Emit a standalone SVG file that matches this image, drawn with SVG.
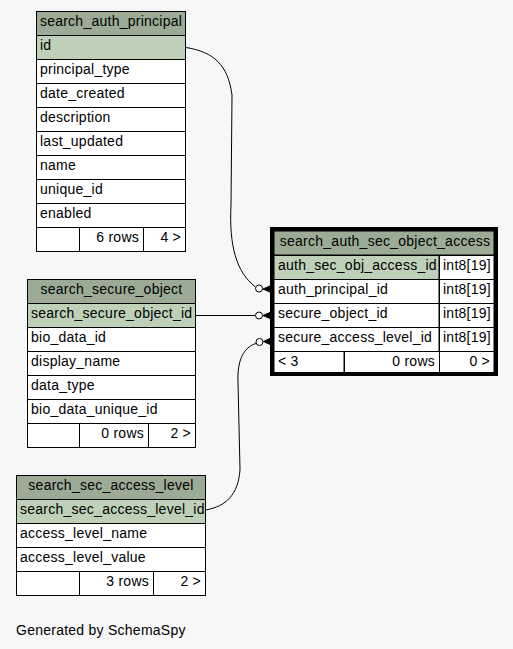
<svg xmlns="http://www.w3.org/2000/svg" width="513" height="649" viewBox="0 0 513 649">
<style>
.t{font-family:"Liberation Sans",Arial,Helvetica,sans-serif;font-size:14px;letter-spacing:0.25px;fill:#000}
.c{text-anchor:middle}
.e{text-anchor:end}
.hd{fill:#9bab96;stroke:#000;stroke-width:1}
.pk{fill:#bed1b8;stroke:#000;stroke-width:1}
.bd{fill:#fff;stroke:#000;stroke-width:1}
.ln{fill:none;stroke:#000;stroke-width:1}
.od{fill:#fff;stroke:#000;stroke-width:1}
.cr{fill:#000;stroke:#000;stroke-width:1}
</style>
<rect x="0" y="0" width="513" height="649" fill="#f7f7f7"/>

<g id="connectors">
  <path class="ln" d="M186,47.5 C214,52 228,65 232,95 L231,205 C229,245 236,272 255.5,287"/>
  <circle class="od" cx="259" cy="288.5" r="3.5"/>
  <polygon class="cr" points="263,289 271,285.5 271,292.5"/>
  <path class="ln" d="M195.5,315.5 L255.5,315.5"/>
  <circle class="od" cx="259" cy="315.5" r="3.5"/>
  <polygon class="cr" points="263,315.5 271,312 271,319"/>
  <path class="ln" d="M206,510 C226,506 238,495 240,470 L238,382 C237,360 244,347 256,343.5"/>
  <circle class="od" cx="259.5" cy="342" r="3.5"/>
  <polygon class="cr" points="263.5,341.5 271,338 271,345"/>
</g>

<g id="search_auth_principal">
  <rect class="hd" x="36.5" y="11.5" width="149" height="24"/>
  <rect class="pk" x="36.5" y="35.5" width="149" height="24"/>
  <rect class="bd" x="36.5" y="59.5" width="149" height="24"/>
  <rect class="bd" x="36.5" y="83.5" width="149" height="24"/>
  <rect class="bd" x="36.5" y="107.5" width="149" height="24"/>
  <rect class="bd" x="36.5" y="131.5" width="149" height="24"/>
  <rect class="bd" x="36.5" y="155.5" width="149" height="24"/>
  <rect class="bd" x="36.5" y="179.5" width="149" height="24"/>
  <rect class="bd" x="36.5" y="203.5" width="149" height="24"/>
  <rect class="bd" x="36.5" y="227.5" width="43" height="24"/>
  <rect class="bd" x="79.5" y="227.5" width="64" height="24"/>
  <rect class="bd" x="143.5" y="227.5" width="42" height="24"/>
  <text class="t c" x="111" y="26">search_auth_principal</text>
  <text class="t" x="40" y="50">id</text>
  <text class="t" x="40" y="74">principal_type</text>
  <text class="t" x="40" y="98">date_created</text>
  <text class="t" x="40" y="122">description</text>
  <text class="t" x="40" y="146">last_updated</text>
  <text class="t" x="40" y="170">name</text>
  <text class="t" x="40" y="194">unique_id</text>
  <text class="t" x="40" y="218">enabled</text>
  <text class="t e" x="139" y="242">6 rows</text>
  <text class="t e" x="181" y="242">4 &gt;</text>
</g>

<g id="search_secure_object">
  <rect class="hd" x="27.5" y="279.5" width="168" height="24"/>
  <rect class="pk" x="27.5" y="303.5" width="168" height="24"/>
  <rect class="bd" x="27.5" y="327.5" width="168" height="24"/>
  <rect class="bd" x="27.5" y="351.5" width="168" height="24"/>
  <rect class="bd" x="27.5" y="375.5" width="168" height="24"/>
  <rect class="bd" x="27.5" y="399.5" width="168" height="24"/>
  <rect class="bd" x="27.5" y="423.5" width="52" height="24"/>
  <rect class="bd" x="79.5" y="423.5" width="69" height="24"/>
  <rect class="bd" x="148.5" y="423.5" width="47" height="24"/>
  <text class="t c" x="111.5" y="294">search_secure_object</text>
  <text class="t" x="31" y="318">search_secure_object_id</text>
  <text class="t" x="31" y="342">bio_data_id</text>
  <text class="t" x="31" y="366">display_name</text>
  <text class="t" x="31" y="390">data_type</text>
  <text class="t" x="31" y="414">bio_data_unique_id</text>
  <text class="t e" x="144" y="438">0 rows</text>
  <text class="t e" x="191" y="438">2 &gt;</text>
</g>

<g id="search_sec_access_level">
  <rect class="hd" x="16.5" y="475.5" width="189" height="24"/>
  <rect class="pk" x="16.5" y="499.5" width="189" height="24"/>
  <rect class="bd" x="16.5" y="523.5" width="189" height="24"/>
  <rect class="bd" x="16.5" y="547.5" width="189" height="24"/>
  <rect class="bd" x="16.5" y="571.5" width="63" height="24"/>
  <rect class="bd" x="79.5" y="571.5" width="74" height="24"/>
  <rect class="bd" x="153.5" y="571.5" width="52" height="24"/>
  <text class="t c" x="111" y="490">search_sec_access_level</text>
  <text class="t" x="20" y="514">search_sec_access_level_id</text>
  <text class="t" x="20" y="538">access_level_name</text>
  <text class="t" x="20" y="562">access_level_value</text>
  <text class="t e" x="149" y="586">3 rows</text>
  <text class="t e" x="201" y="586">2 &gt;</text>
</g>

<g id="search_auth_sec_object_access">
  <rect class="hd" x="274" y="231" width="220" height="24"/>
  <rect class="pk" x="274" y="255.5" width="165" height="24"/>
  <rect class="bd" x="439.5" y="255.5" width="54.5" height="24"/>
  <rect class="bd" x="274" y="279.5" width="165" height="24"/>
  <rect class="bd" x="439.5" y="279.5" width="54.5" height="24"/>
  <rect class="bd" x="274" y="303.5" width="165" height="24"/>
  <rect class="bd" x="439.5" y="303.5" width="54.5" height="24"/>
  <rect class="bd" x="274" y="327.5" width="165" height="24"/>
  <rect class="bd" x="439.5" y="327.5" width="54.5" height="24"/>
  <rect class="bd" x="274" y="351.5" width="70" height="21"/>
  <rect class="bd" x="344.5" y="351.5" width="95" height="21"/>
  <rect class="bd" x="439.5" y="351.5" width="54.5" height="21"/>
  <rect x="272" y="229" width="224" height="145" fill="none" stroke="#000" stroke-width="4"/>
  <text class="t c" x="385" y="246">search_auth_sec_object_access</text>
  <text class="t" x="278" y="270">auth_sec_obj_access_id</text>
  <text class="t" x="443" y="270">int8[19]</text>
  <text class="t" x="278" y="294">auth_principal_id</text>
  <text class="t" x="443" y="294">int8[19]</text>
  <text class="t" x="278" y="318">secure_object_id</text>
  <text class="t" x="443" y="318">int8[19]</text>
  <text class="t" x="278" y="342">secure_access_level_id</text>
  <text class="t" x="443" y="342">int8[19]</text>
  <text class="t" x="278" y="366">&lt; 3</text>
  <text class="t e" x="435" y="366">0 rows</text>
  <text class="t e" x="490" y="366">0 &gt;</text>
</g>

<text class="t" x="16" y="635">Generated by SchemaSpy</text>
</svg>
